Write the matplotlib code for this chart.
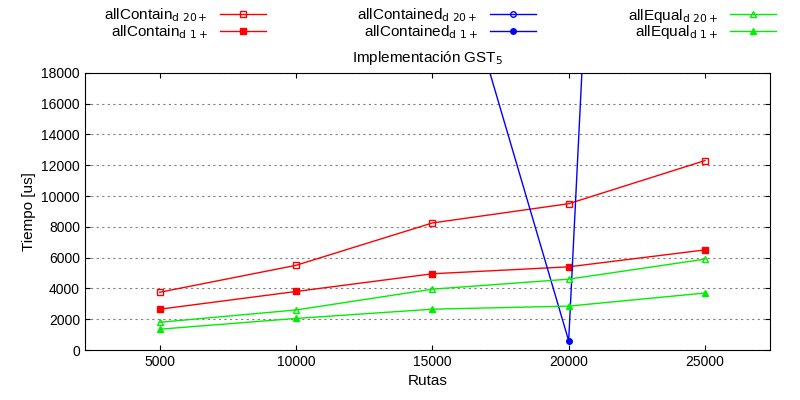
import matplotlib
matplotlib.use("Agg")
import matplotlib.pyplot as plt

rutas = [5000, 10000, 15000, 20000, 25000]
contain_d20 = [3750, 5500, 8250, 9500, 12300]
contain_d1 = [2650, 3800, 4950, 5400, 6500]
contained_d20 = [70000, 60000, 50000, 40000, 250000]  # off the visible range
contained_d1 = [60000, 45000, 30700, 600, 180000]
equal_d20 = [1800, 2600, 3950, 4600, 5900]
equal_d1 = [1350, 2050, 2650, 2850, 3700]

plt.rcParams['font.family'] = ['Liberation Sans', 'DejaVu Sans']
fig = plt.figure(figsize=(8, 4), dpi=100)
ax = fig.add_axes([0.106, 0.125, 0.857, 0.693])

ax.plot(rutas, contain_d20, color='red', marker='s', mfc='none', ms=5, lw=1, label=r'allContain$_{\rm d\ 20+}$')
ax.plot(rutas, contain_d1, color='red', marker='s', ms=5, lw=1, label=r'allContain$_{\rm d\ 1+}$')
ax.plot(rutas, contained_d20, color='blue', marker='o', mfc='none', ms=4, lw=1, label=r'allContained$_{\rm d\ 20+}$')
ax.plot(rutas, contained_d1, color='blue', marker='o', ms=4, lw=1, label=r'allContained$_{\rm d\ 1+}$')
ax.plot(rutas, equal_d20, color='#00ee00', marker='^', mfc='none', ms=5, lw=1, label=r'allEqual$_{\rm d\ 20+}$')
ax.plot(rutas, equal_d1, color='#00ee00', marker='^', ms=5, lw=1, label=r'allEqual$_{\rm d\ 1+}$')

ax.set_xlim(2250, 27400)
ax.set_ylim(0, 18000)
ax.set_xticks(rutas)
ax.set_yticks(range(0, 18001, 2000))
ax.tick_params(direction='in', labelsize=10, top=True, right=True)
ax.grid(axis='y', color='gray', ls=(0, (2, 3)), lw=0.8)
ax.set_xlabel('Rutas', fontsize=11)
ax.set_ylabel('Tiempo [us]', fontsize=11)
ax.set_title(r'Implementación GST$_5$', fontsize=11, pad=8)

fig.legend(loc='upper center', bbox_to_anchor=(0.55, 1.01), ncol=3, frameon=False,
           markerfirst=False, fontsize=11, handlelength=3, columnspacing=6,
           labelspacing=-0.1, borderpad=0.2)

fig.savefig('out.png')
